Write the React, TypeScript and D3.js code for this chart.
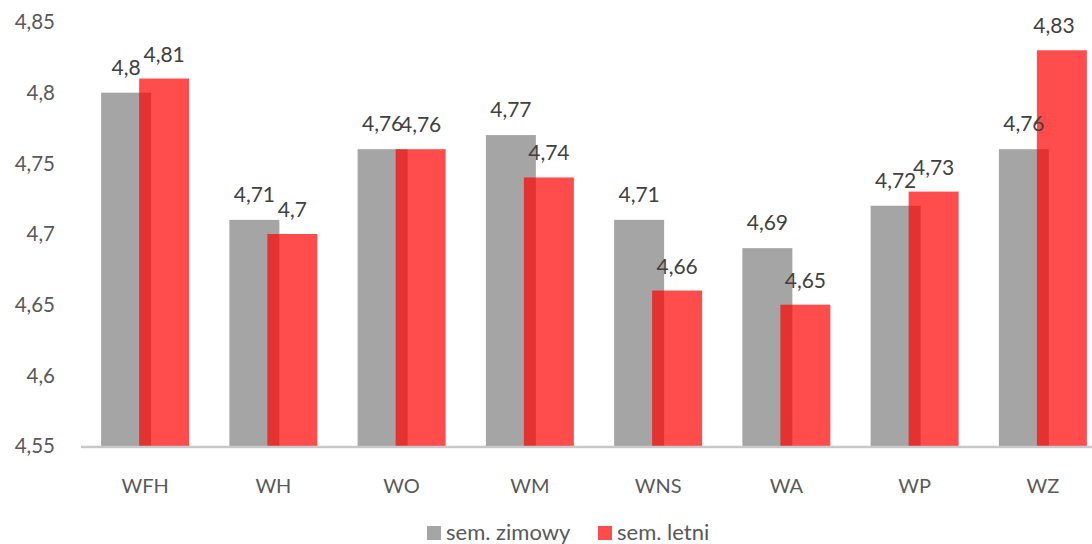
import React from "react";
import * as d3 from "d3";

const categories = ["WFH", "WH", "WO", "WM", "WNS", "WA", "WP", "WZ"];
const winter = [4.8, 4.71, 4.76, 4.77, 4.71, 4.69, 4.72, 4.76];
const summer = [4.81, 4.7, 4.76, 4.74, 4.66, 4.65, 4.73, 4.83];
const yTicks = [4.55, 4.6, 4.65, 4.7, 4.75, 4.8, 4.85];
const seriesNames = ["sem. zimowy", "sem. letni"];

const W = 1092;
const H = 544;
const FONT = "Lato, 'Open Sans', sans-serif";
const fmt = (v: number) => String(+v.toFixed(2)).replace(".", ",");

export default function App() {
  const x = d3.scaleBand<string>().domain(categories).range([81, 1107]);
  const y = d3.scaleLinear().domain([4.55, 4.85]).range([446, 22]);
  const barW = 50;
  const grayColor = "#a5a5a5";
  const redColor = "rgba(255,0,0,0.7)";

  return (
    <svg
      width={W}
      height={H}
      style={{ position: "absolute", left: 0, top: 0, background: "#fff" }}
      fontFamily={FONT}
    >
      {yTicks.map((t) => (
        <text
          key={t}
          x={55}
          y={y(t)}
          dy="0.35em"
          textAnchor="end"
          fontSize={20.5}
          fill="#595959"
        >
          {fmt(t)}
        </text>
      ))}
      {categories.map((c, i) => {
        const cx = (x(c) as number) + x.bandwidth() / 2;
        const gx = cx - 44;
        const rx = cx - 6;
        const gy = y(winter[i]);
        const ry = y(summer[i]);
        const rLabelX = Math.min(rx + barW / 2, W - 38);
        return (
          <g key={c}>
            <rect x={gx} y={gy} width={barW} height={446 - gy} fill={grayColor} />
            <rect x={rx} y={ry} width={barW} height={446 - ry} fill={redColor} />
            <text
              x={gx + barW / 2}
              y={gy - 18}
              textAnchor="middle"
              fontSize={21}
              fill="#404040"
            >
              {fmt(winter[i])}
            </text>
            <text
              x={rLabelX}
              y={ry - 17}
              textAnchor="middle"
              fontSize={21}
              fill="#404040"
            >
              {fmt(summer[i])}
            </text>
            <text
              x={cx}
              y={493}
              textAnchor="middle"
              fontSize={20}
              fill="#595959"
            >
              {c}
            </text>
          </g>
        );
      })}
      <line x1={81} x2={1092} y1={447} y2={447} stroke="#c8c8c8" strokeWidth={2.5} />
      <g>
        <rect x={427} y={526} width={14} height={14} fill={grayColor} />
        <text x={446} y={540} fontSize={22} fill="#595959">
          {seriesNames[0]}
        </text>
        <rect x={598} y={526} width={14} height={14} fill={redColor} />
        <text x={617} y={540} fontSize={22} fill="#595959">
          {seriesNames[1]}
        </text>
      </g>
    </svg>
  );
}
